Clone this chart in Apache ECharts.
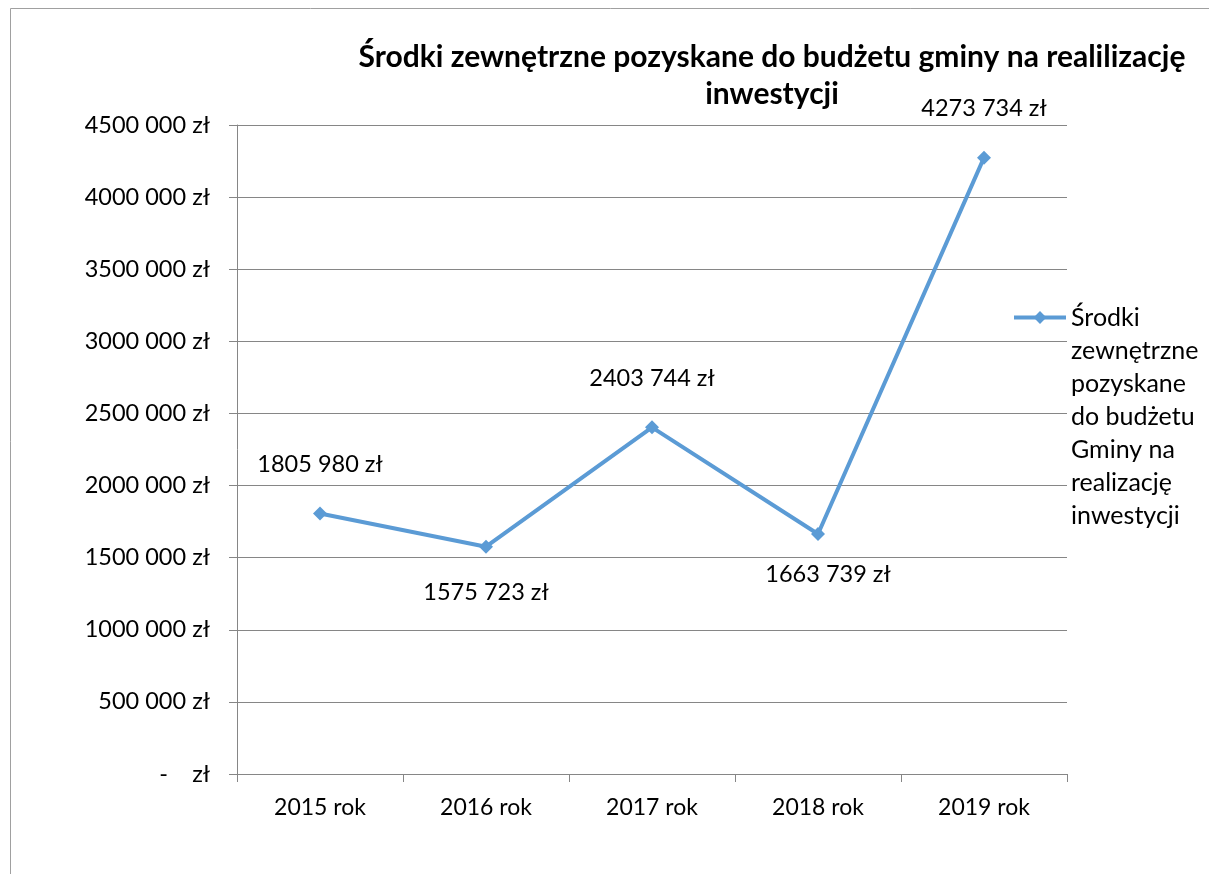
<!DOCTYPE html>
<html>
<head>
<meta charset="utf-8">
<script src="https://cdn.jsdelivr.net/npm/echarts@6/dist/echarts.min.js"></script>
<style>
  html, body { margin: 0; padding: 0; background: #fff; }
  #chart { width: 1209px; height: 874px; }
</style>
</head>
<body>
<div id="chart"></div>
<script>
var years = ['2015 rok', '2016 rok', '2017 rok', '2018 rok', '2019 rok'];
var values = [1805980, 1575723, 2403744, 1663739, 4273734];
var labelSides = ['top', 'bottom', 'top', 'bottom', 'top'];
var seriesName = 'Środki zewnętrzne pozyskane do budżetu Gminy na realizację inwestycji';
var legendLines = ['Środki', 'zewnętrzne', 'pozyskane', 'do budżetu', 'Gminy na', 'realizację', 'inwestycji'];
var titleText = 'Środki zewnętrzne pozyskane do budżetu gminy na realilizację\ninwestycji';

var font = 'Lato, "Open Sans", sans-serif';

function zl(v) {
  if (v === 0) return '-    zł';
  var thousands = Math.floor(v / 1000);
  var rest = String(Math.round(v % 1000)).padStart(3, '0');
  return thousands + ' ' + rest + ' zł';
}

var chartDom = document.getElementById('chart');
var myChart = echarts.init(chartDom);

var points = values.map(function (v, i) {
  var item = {
    value: v,
    label: { position: labelSides[i], distance: labelSides[i] === 'top' ? 30 : 27 }
  };
  if (i === 3) item.label = { position: 'bottom', distance: 21, offset: [10, 0] };
  return item;
});

// blank lines above keep the legend symbol level with the first text line
var legendText = new Array(legendLines.length).join('\n') + legendLines.join('\n');

var option = {
  animation: false,
  backgroundColor: '#fff',
  title: {
    text: titleText,
    left: 772,
    top: 39,
    padding: 0,
    textAlign: 'center',
    textStyle: { fontFamily: font, fontSize: 30, fontWeight: 'bold', color: '#000', lineHeight: 37 }
  },
  graphic: [{
    type: 'rect',
    shape: { x: 10.5, y: 8.5, width: 1400, height: 1000 },
    style: { fill: 'none', stroke: '#a0a0a0', lineWidth: 1 },
    silent: true
  }],
  legend: {
    left: 1012,
    top: 103,
    padding: 0,
    itemWidth: 52,
    itemHeight: 16,
    itemGap: 0,
    lineStyle: { width: 4 },
    formatter: function () { return legendText; },
    textStyle: { fontFamily: font, fontSize: 25, color: '#000', lineHeight: 33 },
    data: [seriesName]
  },
  grid: { left: 237, right: 142, top: 125, height: 649 },
  xAxis: {
    type: 'category',
    data: years,
    boundaryGap: true,
    axisLine: { lineStyle: { color: '#868686', width: 1 } },
    axisTick: { show: true, length: 8, interval: 0, lineStyle: { color: '#868686' } },
    axisLabel: { fontFamily: font, fontSize: 23, color: '#000', margin: 22 }
  },
  yAxis: {
    type: 'value',
    min: 0,
    max: 4500000,
    interval: 500000,
    axisLine: { show: true, lineStyle: { color: '#868686', width: 1 } },
    axisTick: { show: true, length: 8, lineStyle: { color: '#868686' } },
    splitLine: { lineStyle: { color: '#868686', width: 1 } },
    axisLabel: { fontFamily: font, fontSize: 23.5, color: '#000', margin: 27, formatter: zl }
  },
  series: [{
    name: seriesName,
    type: 'line',
    data: points,
    symbol: 'diamond',
    symbolSize: 14,
    color: '#5b9bd5',
    lineStyle: { width: 4, color: '#5b9bd5' },
    itemStyle: { color: '#5b9bd5' },
    label: {
      show: true,
      fontFamily: font,
      fontSize: 23.5,
      color: '#000',
      formatter: function (p) { return zl(p.value); }
    }
  }]
};

option && myChart.setOption(option);
</script>
</body>
</html>
